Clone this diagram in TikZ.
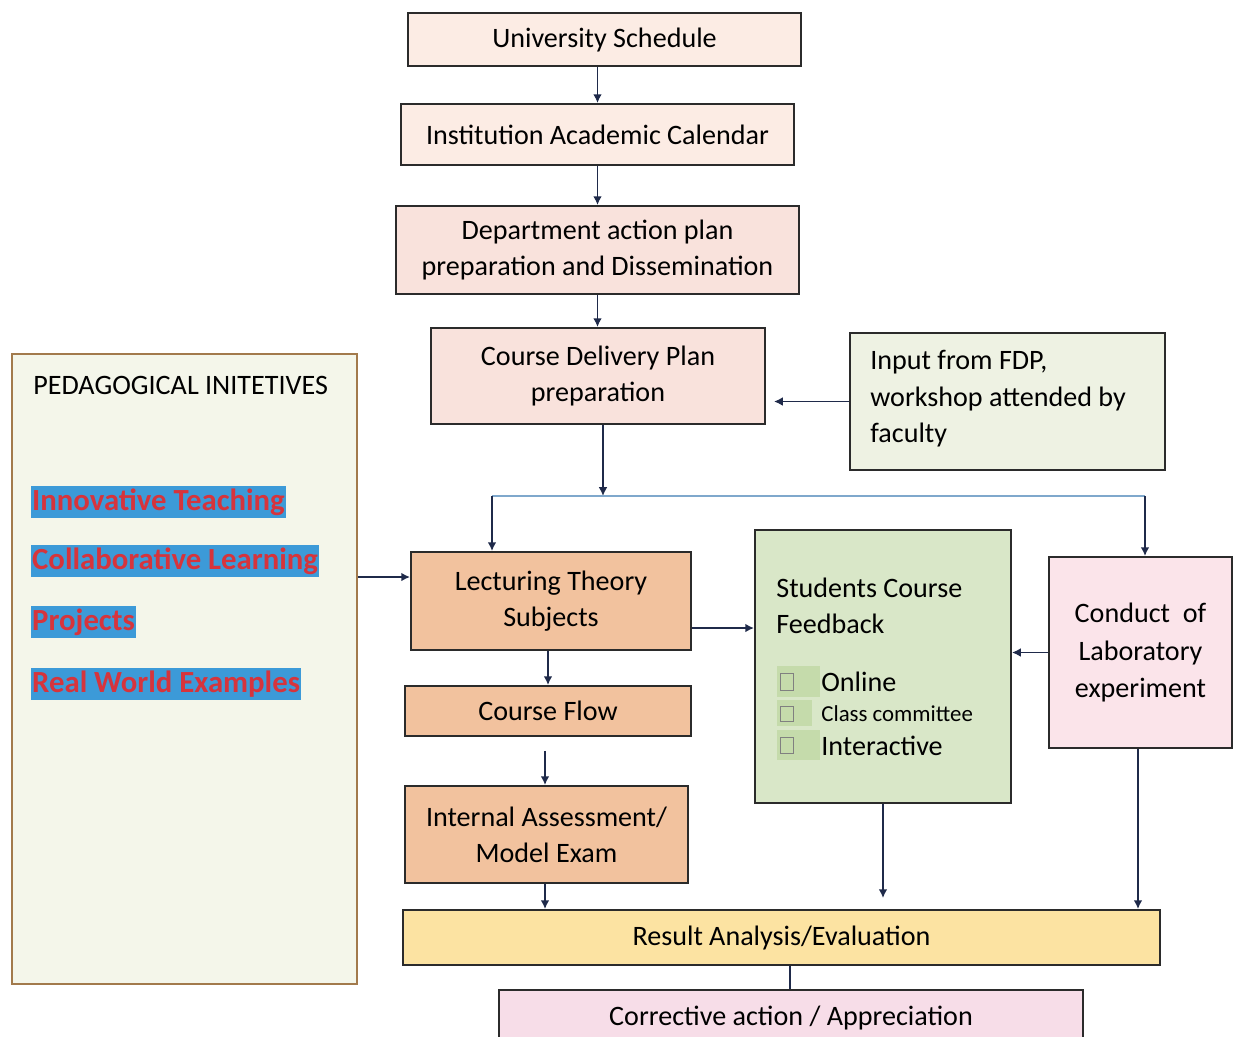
\documentclass[tikz,border=0pt]{standalone}
\usepackage{fontspec}
\setmainfont{Carlito}
\usepackage{xcolor}
\usetikzlibrary{arrows.meta}
\definecolor{boxline}{HTML}{2B2B2B}
\definecolor{arrline}{HTML}{1F2A4A}
\definecolor{branch}{HTML}{7FA8CC}
\definecolor{peach}{HTML}{FCECE4}
\definecolor{rosy}{HTML}{F9E2DC}
\definecolor{sage}{HTML}{EEF2E3}
\definecolor{pale}{HTML}{F4F6EA}
\definecolor{pedline}{HTML}{A27A4C}
\definecolor{tan}{HTML}{F2C29E}
\definecolor{mint}{HTML}{D9E7C8}
\definecolor{blush}{HTML}{FBE4EA}
\definecolor{butter}{HTML}{FCE3A2}
\definecolor{lilac}{HTML}{F7DDE8}
\definecolor{hlblue}{HTML}{3C9AD8}
\definecolor{hlred}{HTML}{D6343C}
\definecolor{chk}{HTML}{C5DBAB}
\tikzset{
  box/.style={draw=boxline,line width=1.1pt,inner sep=0pt,align=center,
    font=\fontsize{16}{20.5}\selectfont},
  sz/.style 2 args={minimum width=#1*0.02cm,minimum height=#2*0.02cm},
  arr/.style={draw=arrline,line width=1pt,-{Latex[length=5pt,width=5pt]}},
  link/.style={draw=arrline,line width=1pt},
  hl/.style={fill=hlblue,text=hlred,anchor=west,inner xsep=0.5pt,inner ysep=0pt,
    text height=14pt,text depth=4.5pt,font=\fontsize{17.5}{20}\bfseries\selectfont},
  plain/.style={anchor=west,inner sep=0pt,align=left,font=\fontsize{16}{20.8}\selectfont}
}
\begin{document}
\begin{tikzpicture}[x=0.02cm,y=-0.02cm]
\useasboundingbox (0,0) rectangle (1235,1036);
\clip (0,0) rectangle (1235,1036);
\fill [white] (0,0) rectangle (1235,1036);

\node [box,sz={393}{53},fill=peach] (usched) at (604.5,39.5) {University Schedule};
\node [box,sz={393}{61},fill=peach] (iacal) at (597.5,134.5) {Institution Academic Calendar};
\node [box,sz={403}{88},fill=rosy] (dept) at (597.5,250) {Department action plan\\preparation and Dissemination};
\node [box,sz={334}{96},fill=rosy] (cdp) at (598,376) {Course Delivery Plan\\preparation};
\node [box,sz={315}{137},fill=sage] (fdp) at (1007.5,401.5) {};
\node [plain] (fdptext) at (870,399) {Input from FDP,\\workshop attended by\\faculty};

\node [box,sz={345}{630},fill=pale,draw=pedline] (pedag) at (184.5,669) {};
\node [plain,font=\fontsize{16}{19}\selectfont] (pedtitle) at (33,385) {PEDAGOGICAL INITETIVES};
\node [hl] (innov) at (31,502) {Innovative Teaching};
\node [hl] (collab) at (31,561) {Collaborative Learning};
\node [hl] (proj) at (31,622) {Projects};
\node [hl] (realw) at (31,684) {Real World Examples};

\node [box,sz={280}{98},fill=tan] (lect) at (551,601) {Lecturing Theory\\Subjects};
\node [box,sz={286}{50},fill=tan] (cflow) at (548,711) {Course Flow};
\node [box,sz={283}{97},fill=tan] (iassess) at (546.5,834.5) {Internal Assessment/\\Model Exam};

\node [box,sz={256}{273},fill=mint] (feedback) at (883,666.5) {};
\node [plain] (fbtitle) at (776,606) {Students Course\\Feedback};
\fill [chk] (777,666) rectangle (820,697);
\fill [chk] (777,700) rectangle (812,726);
\fill [chk] (777,730) rectangle (820,760);
\draw [gray,line width=0.4pt] (780,673) rectangle (793,690);
\draw [gray,line width=0.4pt] (780,706) rectangle (793,721);
\draw [gray,line width=0.4pt] (780,737) rectangle (793,753);
\node [plain] (online) at (821,682) {Online};
\node [plain,font=\fontsize{13}{15}\selectfont] (clcom) at (821,714) {Class committee};
\node [plain] (inter) at (821,746) {Interactive};

\node [box,sz={183}{191},fill=blush,font=\fontsize{16}{21.5}\selectfont] (lab) at (1140.5,652.5) {Conduct\ \ of\\Laboratory\\experiment};

\node [box,sz={757}{55},fill=butter] (result) at (781.5,937.5) {Result Analysis/Evaluation};
\node [box,sz={584}{56},fill=lilac] (corr) at (791,1018) {Corrective action / Appreciation};

\coordinate (split) at (603,496);
\coordinate (brL) at (492,496);
\coordinate (brR) at (1145,496);

\draw [arr] (usched.south -| iacal.north) -- (iacal.north);
\draw [arr] (iacal.south) -- (dept.north);
\draw [arr] (dept.south) -- (dept.south |- cdp.north);
\draw [arr,shorten >=8*0.02cm] (fdp.west) -- (cdp.east |- fdp.west);
\draw [arr] (cdp.south -| split) -- (split);
\draw [branch,line width=0.8pt] (brL) -- (brR);
\draw [arr] (brL) -- (brL |- lect.north);
\draw [arr] (brR) -- (brR |- lab.north);
\draw [arr] (pedag.east |- 0,577) -- (lect.west |- 0,577);
\draw [arr] (lect.east |- 0,628) -- (feedback.west |- 0,628);
\draw [arr] (lab.west) -- (feedback.east |- lab.west);
\draw [arr] (lect.south -| cflow.north) -- (cflow.north);
\draw [arr,shorten <=14*0.02cm] (cflow.south -| 545,0) -- (iassess.north -| 545,0);
\draw [arr] (iassess.south -| 545,0) -- (result.north -| 545,0);
\draw [arr,shorten >=11*0.02cm] (feedback.south) -- (result.north -| feedback.south);
\draw [arr] (lab.south -| 1138,0) -- (result.north -| 1138,0);
\draw [link] (result.south -| 790,0) -- (corr.north -| 790,0);
\end{tikzpicture}
\end{document}
